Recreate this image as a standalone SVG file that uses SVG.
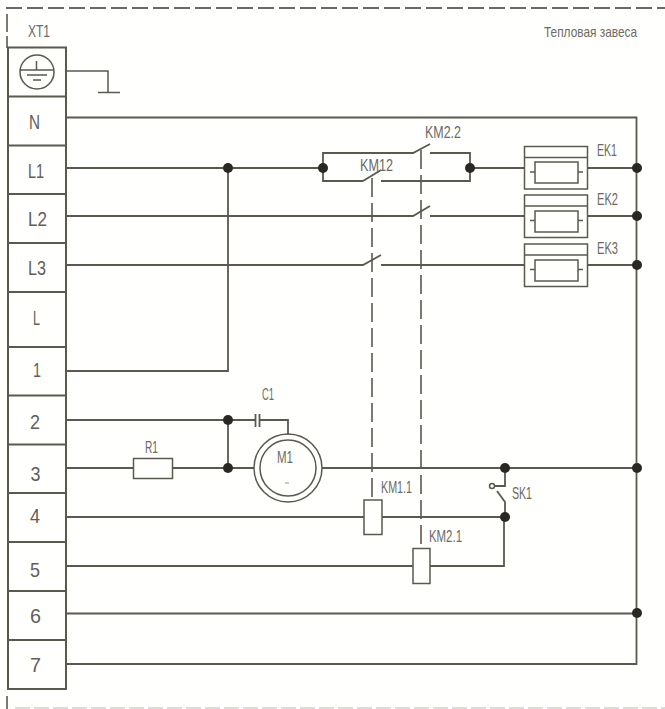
<svg xmlns="http://www.w3.org/2000/svg" width="665" height="709" viewBox="0 0 665 709">
<style>
.w{fill:none;stroke:#5a584f;stroke-width:1.8}
.t{fill:none;stroke:#5a584f;stroke-width:1.5}
.b{fill:none;stroke:#5a584f;stroke-width:2}
.d{fill:#2a2822}
.m{fill:none;stroke:#5a584f;stroke-width:1.6;stroke-dasharray:19 6}
text{font-family:"Liberation Sans","Liberation Sans Narrow",Arial,sans-serif;fill:#6b6a64;font-size:16px}
.r{font-size:21px;fill:#5f5e58}
</style>
<rect width="665" height="709" fill="#fffffd"/>
<g id="frame">
<path d="M6 8H665" fill="none" stroke="#6a6a64" stroke-width="2" stroke-dasharray="16 5"/>
<path d="M7 14V32M7 36V48" fill="none" stroke="#5a584f" stroke-width="1.6"/>
<path d="M7 696V709" fill="none" stroke="#5a584f" stroke-width="1.6"/>
<path d="M15 708H665" fill="none" stroke="#d2d2ca" stroke-width="1.4" stroke-dasharray="15 4"/>
<text x="28" y="37" textLength="22" lengthAdjust="spacingAndGlyphs">XT1</text>
<text x="544" y="37" textLength="93" lengthAdjust="spacingAndGlyphs" style="font-size:15px">Тепловая завеса</text>
</g>
<g id="XT1">
<rect class="b" x="8" y="47.500" width="58" height="641.500"/>
<path class="b" d="M8 96.500H66M8 145.500H66M8 194H66M8 243H66M8 292H66M8 347H66M8 395.500H66M8 444.500H66M8 493H66M8 542H66M8 591H66M8 640H66"/>
<g class="t"><circle cx="37" cy="72" r="17"/><path d="M20 70H54M36.500 61V70M27 75H47M33 80H41"/></g>
<text class="r" x="29" y="129" textLength="11" lengthAdjust="spacingAndGlyphs">N</text>
<text class="r" x="28" y="178" textLength="16" lengthAdjust="spacingAndGlyphs">L1</text>
<text class="r" x="28" y="226" textLength="19" lengthAdjust="spacingAndGlyphs">L2</text>
<text class="r" x="28" y="275" textLength="18" lengthAdjust="spacingAndGlyphs">L3</text>
<text class="r" x="33" y="325" textLength="7" lengthAdjust="spacingAndGlyphs">L</text>
<text class="r" x="33" y="377" textLength="8" lengthAdjust="spacingAndGlyphs">1</text>
<text class="r" x="30" y="429" textLength="10" lengthAdjust="spacingAndGlyphs">2</text>
<text class="r" x="30.500" y="481" textLength="10" lengthAdjust="spacingAndGlyphs">3</text>
<text class="r" x="30" y="523" textLength="10" lengthAdjust="spacingAndGlyphs">4</text>
<text class="r" x="30" y="577" textLength="10" lengthAdjust="spacingAndGlyphs">5</text>
<text class="r" x="30" y="623" textLength="11" lengthAdjust="spacingAndGlyphs">6</text>
<text class="r" x="30" y="672" textLength="11" lengthAdjust="spacingAndGlyphs">7</text>
</g>
<g id="connectors">
<path class="t" d="M66 71H108V92M98 92.500H120"/>
<path class="w" d="M66 117.500H636.500V664H66"/>
<path class="w" d="M66 168H323M323 168V153H413L430 144M430 153H470V181H381M363 181H323V168M470 168H524M228 168V371H66"/>
<path class="w" d="M363 181L381 170"/>
<path class="w" d="M66 216H413L430 206M430 216H524"/>
<path class="w" d="M66 265H363L381 255M381 265H524"/>
<path class="w" d="M587 168H636M587 216H636M587 265H636"/>
<path class="w" d="M66 420H255M259 420H288V435M228 420V468M66 468H133M172 468H254M322 468H636M66 517H364M382 517H505M66 566H413M430 566H504V517M66 613.500H636"/>
<path class="w" d="M255.500 414V427M259.500 414V427"/>
<path class="w" d="M505 468V486H495M497 491L505 502V517"/>
<circle class="t" cx="492" cy="486" r="2.500"/>
<path class="m" d="M372 178V500"/>
<path class="m" d="M421 150V548"/>
<circle class="d" cx="228" cy="168" r="5"/><circle class="d" cx="323" cy="168" r="5"/><circle class="d" cx="470" cy="168" r="5"/>
<circle class="d" cx="637" cy="168" r="5"/><circle class="d" cx="637" cy="216" r="5"/><circle class="d" cx="637" cy="265" r="5"/>
<circle class="d" cx="228" cy="420" r="5"/><circle class="d" cx="228" cy="468" r="5"/><circle class="d" cx="505" cy="468" r="5"/><circle class="d" cx="637" cy="468" r="5"/><circle class="d" cx="505" cy="517" r="5"/><circle class="d" cx="637" cy="613" r="5"/>
</g>
<g id="KM22"><text x="425" y="138" textLength="36" lengthAdjust="spacingAndGlyphs">KM2.2</text></g>
<g id="KM12"><text x="360" y="171" textLength="33" lengthAdjust="spacingAndGlyphs">KM12</text></g>
<g id="EK1"><rect class="t" x="524.500" y="146.500" width="63" height="42.500"/><path class="t" d="M524.500 157.500H587.500M530 172H535M578 172H583"/><rect class="t" x="535" y="162" width="43" height="21"/><text x="597" y="156" textLength="20" lengthAdjust="spacingAndGlyphs">EK1</text></g>
<g id="EK2"><rect class="t" x="524.500" y="195" width="63" height="42.500"/><path class="t" d="M524.500 206H587.500M530 220.500H535M578 220.500H583"/><rect class="t" x="535" y="211" width="43" height="21"/><text x="597" y="205" textLength="21" lengthAdjust="spacingAndGlyphs">EK2</text></g>
<g id="EK3"><rect class="t" x="524.500" y="244" width="63" height="42.500"/><path class="t" d="M524.500 255H587.500M530 269.500H535M578 269.500H583"/><rect class="t" x="535" y="260" width="43" height="21"/><text x="597" y="254" textLength="21" lengthAdjust="spacingAndGlyphs">EK3</text></g>
<g id="R1"><rect class="t" x="133.500" y="458.500" width="39" height="20"/><text x="145" y="453" textLength="13" lengthAdjust="spacingAndGlyphs">R1</text></g>
<g id="C1"><text x="262" y="400" textLength="12" lengthAdjust="spacingAndGlyphs">C1</text></g>
<g id="M1"><circle class="t" cx="288" cy="468" r="34"/><circle class="t" cx="288" cy="468" r="28"/><text x="277" y="463" textLength="16" lengthAdjust="spacingAndGlyphs">M1</text><path d="M285 483H289" stroke="#aaa" stroke-width="1.200"/></g>
<g id="KM11"><rect class="t" x="364" y="500" width="18" height="34.500"/><text x="381" y="493" textLength="31" lengthAdjust="spacingAndGlyphs">KM1.1</text></g>
<g id="KM21"><rect class="t" x="413" y="548.500" width="17" height="35"/><text x="429" y="542" textLength="33" lengthAdjust="spacingAndGlyphs">KM2.1</text></g>
<g id="SK1"><text x="512" y="499" textLength="20" lengthAdjust="spacingAndGlyphs">SK1</text></g>
</svg>
